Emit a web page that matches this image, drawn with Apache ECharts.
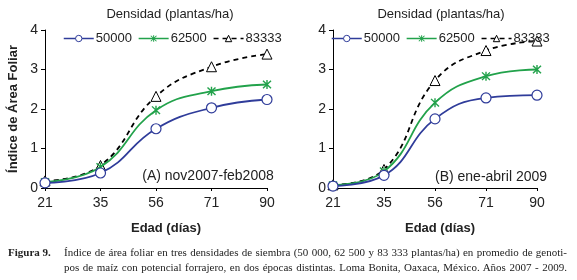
<!DOCTYPE html>
<html>
<head>
<meta charset="utf-8">
<script src="https://cdn.jsdelivr.net/npm/echarts@6/dist/echarts.min.js"></script>
<style>
  html, body { margin: 0; padding: 0; background: #fff; }
  #wrap { position: relative; width: 577px; height: 280px; }
  #chart { position: absolute; left: 0; top: 0; width: 577px; height: 280px; }
  .cap { position: absolute; font-family: "Liberation Serif", serif; font-size: 11px; line-height: 15px; color: #222; white-space: nowrap; }
  #figno { left: 8px; top: 245px; font-weight: bold; }
  .line { left: 64px; width: 503px; text-align: justify; text-align-last: justify; }
  #cap1 { top: 245px; }
  #cap2 { top: 260px; }
</style>
</head>
<body>
<div id="wrap">
  <div id="chart"></div>
  <div class="cap" id="figno">Figura 9.</div>
  <div class="cap line" id="cap1">Índice de área foliar en tres densidades de siembra (50 000, 62 500 y 83 333 plantas/ha) en promedio de genoti-</div>
  <div class="cap line" id="cap2">pos de maíz con potencial forrajero, en dos épocas distintas. Loma Bonita, Oaxaca, México. Años 2007 - 2009.</div>
</div>
<script>
// edad en días
const days = ['21', '35', '56', '71', '90'];
const yTicks = [0, 1, 2, 3, 4];
const densNames = ['50000', '62500', '83333'];

// (A) nov2007-feb2008
const d50A = [0.13, 0.38, 1.50, 2.03, 2.24];
const d62A = [0.15, 0.53, 1.97, 2.45, 2.62];
const d83A = [0.18, 0.57, 2.32, 3.07, 3.39];

// (B) ene-abril 2009
const d50B = [0.05, 0.32, 1.75, 2.28, 2.35];
const d62B = [0.07, 0.42, 2.16, 2.83, 3.00];
const d83B = [0.08, 0.47, 2.72, 3.48, 3.72];

const blue = '#2f3c9a';
const green = '#22a24b';
const font = 'Arial, "Liberation Sans", sans-serif';
const star = 'path://M-1.5,-10L1.5,-10L1.5,10L-1.5,10Z M-7.44,-9.56L9.56,7.44L7.44,9.56L-9.56,-7.44Z M-9.56,7.44L7.44,-9.56L9.56,-7.44L-7.44,9.56Z';

const styles = [
    { symbol: 'circle', symbolSize: 10, itemStyle: { color: '#fff', borderColor: blue, borderWidth: 1.2 }, lineStyle: { color: blue, width: 1.8 } },
    { symbol: star, symbolSize: 9, itemStyle: { color: green }, lineStyle: { color: green, width: 1.8 } },
    { symbol: 'triangle', symbolSize: 10, itemStyle: { color: '#fff', borderColor: '#000', borderWidth: 1 }, lineStyle: { color: '#000', width: 1.8, type: [5, 4] } }
];

const makeSeries = (values, idx) => values.map((v, i) => ({
    name: densNames[i],
    type: 'line',
    xAxisIndex: idx,
    yAxisIndex: idx,
    data: v,
    smooth: 0.45,
    showAllSymbol: true,
    z: 3 - i,
    ...styles[i]
}));

const xAxisBase = (idx) => ({
    gridIndex: idx,
    type: 'category',
    data: days,
    boundaryGap: false,
    axisLine: { lineStyle: { color: '#000', width: 1 } },
    axisTick: { show: true, length: 3, lineStyle: { color: '#000' } },
    axisLabel: { color: '#222', fontSize: 14, fontFamily: font, margin: 8 }
});

const yAxisBase = (idx) => ({
    gridIndex: idx,
    type: 'value',
    min: yTicks[0],
    max: yTicks[yTicks.length - 1],
    interval: 1,
    splitLine: { show: false },
    axisLine: { show: true, lineStyle: { color: '#000', width: 1 } },
    axisTick: { show: true, length: 4, lineStyle: { color: '#000' } },
    axisLabel: { color: '#222', fontSize: 14, fontFamily: font, margin: 7 }
});

const legendBase = (left) => ({
    left: left,
    top: 27,
    itemWidth: 30,
    itemHeight: 8,
    itemGap: 6,
    data: densNames,
    itemStyle: { borderWidth: 1 },
    lineStyle: { width: 1.5 },
    textStyle: { fontSize: 13, fontFamily: font, color: '#222', padding: [0, 0, 0, -3] }
});

const txt = (x, y, text, size, bold, align) => ({
    type: 'text',
    x: x,
    y: y,
    style: {
        text: text,
        fill: '#222',
        font: (bold ? 'bold ' : '') + size + 'px ' + font,
        textAlign: align || 'center',
        textVerticalAlign: 'middle'
    }
});

const chart = echarts.init(document.getElementById('chart'));
chart.setOption({
    animation: false,
    grid: [
        { left: 45, right: 310, top: 30, bottom: 92 },
        { left: 333, right: 40, top: 30, bottom: 92 }
    ],
    xAxis: [xAxisBase(0), xAxisBase(1)],
    yAxis: [
        {
            ...yAxisBase(0),
            name: 'Índice de Área Foliar',
            nameLocation: 'middle',
            nameGap: 25,
            nameTextStyle: { fontSize: 13, fontWeight: 'bold', fontFamily: font, color: '#222' }
        },
        yAxisBase(1)
    ],
    legend: [legendBase(58), legendBase(326)],
    series: [
        ...makeSeries([d50A, d62A, d83A], 0),
        ...makeSeries([d50B, d62B, d83B], 1)
    ],
    graphic: [
        txt(170, 14, 'Densidad (plantas/ha)', 13, false),
        txt(441, 14, 'Densidad (plantas/ha)', 13, false),
        txt(208, 176, '(A) nov2007-feb2008', 14, false),
        txt(491, 177, '(B) ene-abril 2009', 14, false),
        txt(166, 228, 'Edad (días)', 13, true),
        txt(440, 228, 'Edad (días)', 13, true)
    ]
});
</script>
</body>
</html>
